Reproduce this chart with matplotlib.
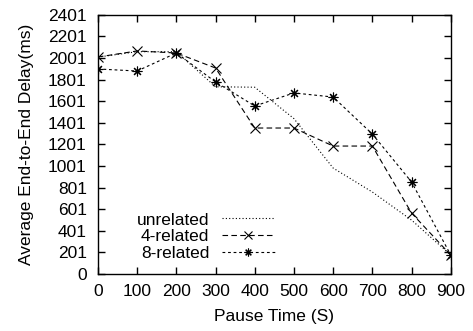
import matplotlib
matplotlib.use("Agg")
from matplotlib import pyplot as plt

plt.rcParams['font.family'] = ['Liberation Sans', 'DejaVu Sans']

pause = [0, 100, 200, 300, 400, 500, 600, 700, 800, 900]
unrelated = [2010, 2060, 2060, 1735, 1731, 1440, 982, 760, 500, 176]
related4 = [2011, 2067, 2048, 1909, 1353, 1353, 1186, 1186, 565, 176]
related8 = [1900, 1881, 2048, 1780, 1557, 1678, 1640, 1297, 853, 176]
yticks = [0, 201, 401, 601, 801, 1001, 1201, 1401, 1601, 1801, 2001, 2201, 2401]

fig = plt.figure(figsize=(4.73, 3.31), dpi=100)
ax = fig.add_axes([0.207, 0.172, 0.746, 0.783])

ax.plot(pause, unrelated, color='black', linewidth=0.8, linestyle=(0, (1, 2)),
        label='unrelated')
ax.plot(pause, related4, color='black', linewidth=0.8, linestyle=(0, (5, 3)),
        marker='x', markersize=6.5, markeredgewidth=0.8, label='4-related')
ax.plot(pause, related8, color='black', linewidth=0.8, linestyle=(0, (2.5, 2.5)),
        marker=(8, 2, 0), markersize=7, markeredgewidth=0.8, label='8-related')

ax.set_xlim(0, 900)
ax.set_ylim(0, 2401)
ax.set_xticks(pause)
ax.set_yticks(yticks)
ax.tick_params(direction='in', top=True, right=True, length=5, width=1,
               labelsize=12.5)
ax.tick_params(axis='y', pad=8)
ax.tick_params(axis='x', pad=7)
for s in ax.spines.values():
    s.set_linewidth(1)

ax.set_xlabel('Pause Time (S)', fontsize=12.5, labelpad=7)
ax.set_ylabel('Average End-to-End Delay(ms)', fontsize=12.5, labelpad=10)

leg = ax.legend(loc='lower right', bbox_to_anchor=(0.503, 0.052), frameon=False,
                markerfirst=False, fontsize=12.5, handlelength=3.1,
                labelspacing=0.08, handletextpad=0.7, numpoints=1,
                borderpad=0, borderaxespad=0, markerscale=0.8)
for t in leg.get_texts():
    t.set_ha('right')

fig.savefig('out.png', dpi=100)
